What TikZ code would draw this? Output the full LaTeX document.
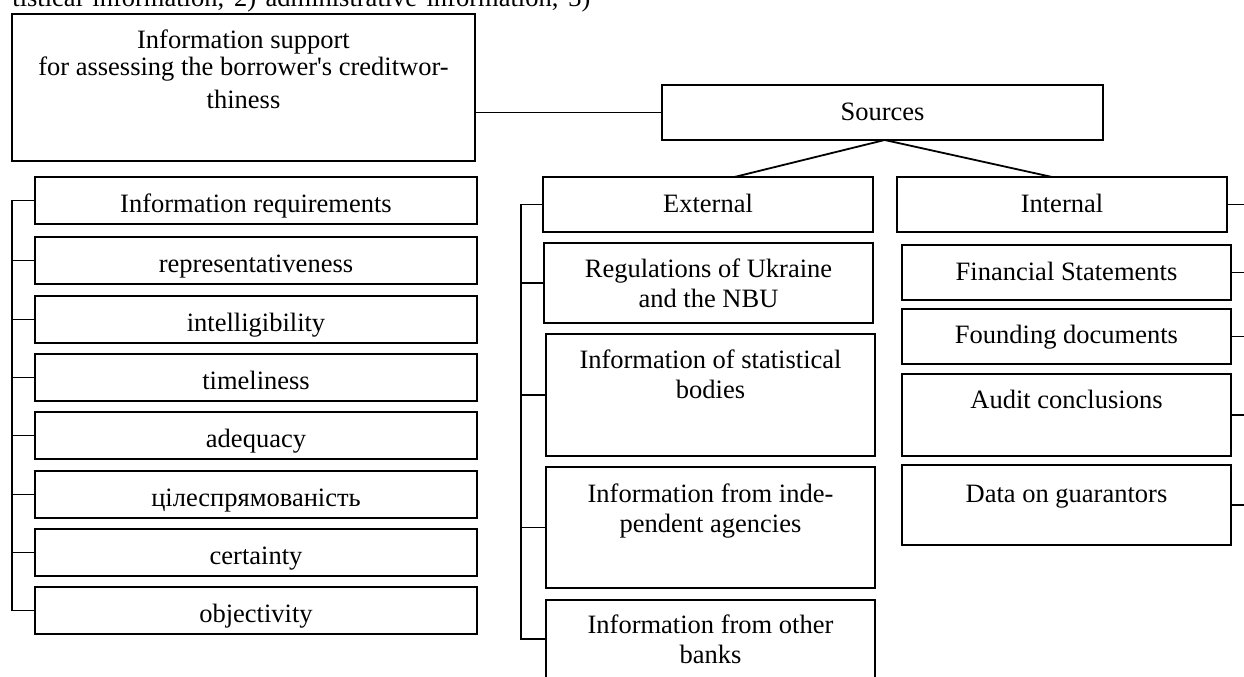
\documentclass[tikz,border=0pt]{standalone}
\usepackage{fontspec}
\setmainfont{Liberation Serif}
\usetikzlibrary{calc}
\begin{document}
\begin{tikzpicture}[x=0.5pt,y=-0.5pt,
  box/.style={draw, line width=1pt, inner sep=0pt, outer sep=0pt, anchor=north west},
  txt/.style={font=\fontsize{13.25pt}{15pt}\selectfont, align=center, inner sep=0pt, outer sep=0pt, anchor=north},
  wire/.style={draw, line width=0.9pt}]
\clip (0,0) rectangle (1244,676);
\fill[white] (0,0) rectangle (1244,676);
% cut-off text line at the top
\node[font=\fontsize{13.25pt}{15pt}\selectfont, inner sep=0pt, anchor=base west] (cut) at (12,6)
  {\makebox[289pt][s]{tistical information, 2) administrative information, 3)}};
% main boxes
\node[box, minimum width=231.5pt, minimum height=73.5pt] (top) at (12,14) {};
\node[txt] (ttop) at (243.5,27) {\strut Information support\\[-1.5pt]for assessing the borrower\textquotesingle s creditwor-\\[1.5pt]thiness};
\node[box, minimum width=220.5pt, minimum height=27.5pt] (src) at (662,85) {};
\node[txt] (tsrc) at (882.5,99) {\strut Sources};
\node[box, minimum width=165pt, minimum height=27.5pt] (ext) at (543,177) {};
\node[txt] (text) at (708,191) {\strut External};
\node[box, minimum width=165pt, minimum height=27.5pt] (int) at (897,177) {};
\node[txt] (tint) at (1062,191) {\strut Internal};
% left column
\foreach \n/\y/\t in {1/177/Information requirements, 2/237/representativeness, 3/296/intelligibility,
  4/354/timeliness, 5/412/adequacy, 6/471/цілеспрямованість, 7/529/certainty, 8/587/objectivity}{
  \node[box, minimum width=221pt, minimum height=23.5pt] (L\n) at (35,\y) {};
  \node[txt] (tL\n) at (256,\y+14) {\strut \t};
}
% external column
\node[box, minimum width=164.5pt, minimum height=40pt] (reg) at (544,243) {};
\node[txt] (treg) at (708.5,256) {\strut Regulations of Ukraine\\and the NBU};
\node[box, minimum width=164.5pt, minimum height=61pt] (stat) at (546,334) {};
\node[txt] (tstat) at (710.5,347) {\strut Information of statistical\\bodies};
\node[box, minimum width=164.5pt, minimum height=60.5pt] (ind) at (546,467) {};
\node[txt] (tind) at (710.5,481) {\strut Information from inde-\\pendent agencies};
\node[box, minimum width=164.5pt, minimum height=39pt] (oth) at (546,600) {};
\node[txt] (toth) at (710.5,612) {\strut Information from other\\banks};
% internal column
\node[box, minimum width=164.5pt, minimum height=27.5pt] (fin) at (902,245) {};
\node[txt] (tfin) at (1066.5,259) {\strut Financial Statements};
\node[box, minimum width=164.5pt, minimum height=27.5pt] (fnd) at (902,309) {};
\node[txt] (tfnd) at (1066.5,322) {\strut Founding documents};
\node[box, minimum width=164.5pt, minimum height=41pt] (aud) at (902,374) {};
\node[txt] (taud) at (1066.5,387) {\strut Audit conclusions};
\node[box, minimum width=164.5pt, minimum height=40pt] (gua) at (902,465) {};
\node[txt] (tgua) at (1066.5,481) {\strut Data on guarantors};
% connectors
\coordinate (lb) at (12,0);
\coordinate (mb) at (521,0);
\coordinate (rb) at (1250,0);
\draw[wire] (top.east |- src.west) -- (src.west);
\coordinate (apex) at ($(src.south west)!0.505!(src.south east)$);
\draw[wire] (apex) -- ($(ext.north west)!0.58!(ext.north east)$);
\draw[wire] (apex) -- ($(int.north west)!0.47!(int.north east)$);
\draw[wire] (L1.west) -- (lb |- L1.west) -- (lb |- L8.west) -- (L8.west);
\foreach \n in {2,...,7}{\draw[wire] (L\n.west) -- (lb |- L\n.west);}
\draw[wire] (ext.west) -- (mb |- ext.west) -- (mb |- oth.west) -- (oth.west);
\foreach \n in {reg,stat,ind}{\draw[wire] (\n.west) -- (mb |- \n.west);}
\foreach \n in {int,fin,fnd,aud,gua}{\draw[wire] (\n.east) -- (rb |- \n.east);}
\end{tikzpicture}
\end{document}
